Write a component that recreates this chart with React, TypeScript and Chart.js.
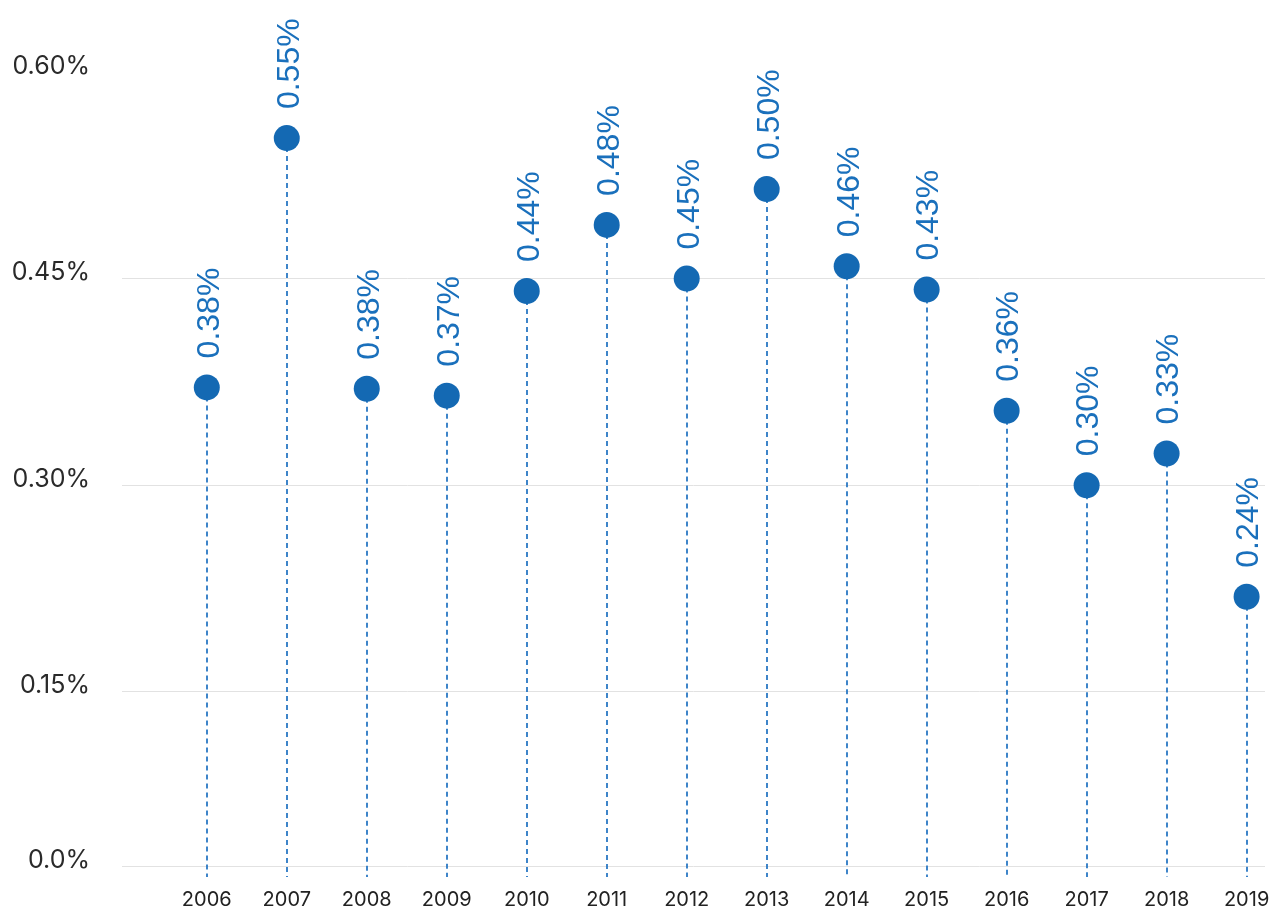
import React, { useEffect, useRef } from "react";
import { Chart, registerables } from "chart.js";

Chart.register(...registerables);

const years = [2006, 2007, 2008, 2009, 2010, 2011, 2012, 2013, 2014, 2015, 2016, 2017, 2018, 2019];
const values = [0.371, 0.552, 0.370, 0.365, 0.441, 0.489, 0.450, 0.515, 0.459, 0.442, 0.354, 0.300, 0.323, 0.219];
const valueLabels = ["0.38%", "0.55%", "0.38%", "0.37%", "0.44%", "0.48%", "0.45%", "0.50%", "0.46%", "0.43%", "0.36%", "0.30%", "0.33%", "0.24%"];
const yTickValues = [0.0235, 0.15, 0.30, 0.45, 0.60];
const yTickLabels = ["0.0%", "0.15%", "0.30%", "0.45%", "0.60%"];

const DOT = "#1469b3";
const LABEL = "#1a70bc";
const STEM = "#2a78c4";

export default function App() {
  const ref = useRef<HTMLCanvasElement | null>(null);

  useEffect(() => {
    if (!ref.current) return;

    const stemPlugin = {
      id: "stems",
      beforeDatasetsDraw(chart: any) {
        const { ctx, chartArea } = chart;
        const meta = chart.getDatasetMeta(0);
        ctx.save();
        ctx.strokeStyle = STEM;
        ctx.lineWidth = 1.8;
        ctx.setLineDash([5, 4]);
        meta.data.forEach((p: any) => {
          ctx.beginPath();
          ctx.moveTo(Math.round(p.x), p.y);
          ctx.lineTo(Math.round(p.x), chartArea.bottom + 11);
          ctx.stroke();
        });
        ctx.restore();
      },
      afterDatasetsDraw(chart: any) {
        const { ctx } = chart;
        const meta = chart.getDatasetMeta(0);
        ctx.save();
        ctx.fillStyle = LABEL;
        ctx.font = '32px "Liberation Sans", Arial, sans-serif';
        ctx.textAlign = "left";
        ctx.textBaseline = "middle";
        meta.data.forEach((p: any, i: number) => {
          ctx.save();
          ctx.translate(p.x + 3, p.y - 13 - 16);
          ctx.rotate(-Math.PI / 2);
          ctx.fillText(valueLabels[i], 0, 0);
          ctx.restore();
        });
        ctx.restore();
      },
    };

    const chart = new Chart(ref.current, {
      type: "scatter",
      data: {
        datasets: [
          {
            data: years.map((y, i) => ({ x: y, y: values[i] })),
            backgroundColor: DOT,
            borderWidth: 0,
            pointRadius: 13,
            pointHoverRadius: 13,
          },
        ],
      },
      options: {
        animation: false,
        responsive: false,
        events: [],
        layout: { autoPadding: false, padding: { top: 72, right: 8, left: 0, bottom: 0 } },
        plugins: { legend: { display: false }, tooltip: { enabled: false } },
        scales: {
          x: {
            type: "linear",
            min: 2004.94,
            max: 2019.23,
            afterFit: (scale: any) => {
              scale.height = 43;
              scale.paddingLeft = 0;
              scale.paddingRight = 0;
            },
            afterBuildTicks: (scale: any) => {
              scale.ticks = years.map((y) => ({ value: y }));
            },
            grid: { display: false, drawTicks: false },
            border: { display: false },
            ticks: {
              autoSkip: false,
              maxRotation: 0,
              padding: 22,
              color: "#222222",
              font: { family: "Inter", size: 20 },
              callback: (v: any) => String(v),
            },
          },
          y: {
            type: "linear",
            min: yTickValues[0],
            max: 0.6,
            afterFit: (scale: any) => {
              scale.width = 122;
              scale.paddingTop = 0;
              scale.paddingBottom = 0;
            },
            afterBuildTicks: (scale: any) => {
              scale.ticks = yTickValues.map((v) => ({ value: v }));
            },
            grid: {
              drawTicks: false,
              lineWidth: 1,
              color: (c: any) => (c.tick && c.tick.value === 0.6 ? "rgba(0,0,0,0)" : "#e2e2e2"),
            },
            border: { display: false },
            ticks: {
              padding: 32,
              labelOffset: -6,
              color: "#2a2a2a",
              font: { family: "Inter", size: 25 },
              callback: (v: any) => {
                const idx = yTickValues.indexOf(v);
                return idx >= 0 ? yTickLabels[idx] : "";
              },
            },
          },
        },
      },
      plugins: [stemPlugin],
    });

    return () => chart.destroy();
  }, []);

  return (
    <div style={{ position: "fixed", left: 0, top: 0, width: 1273, height: 909, background: "#fff" }}>
      <canvas ref={ref} width={1273} height={909} style={{ display: "block" }} />
    </div>
  );
}
